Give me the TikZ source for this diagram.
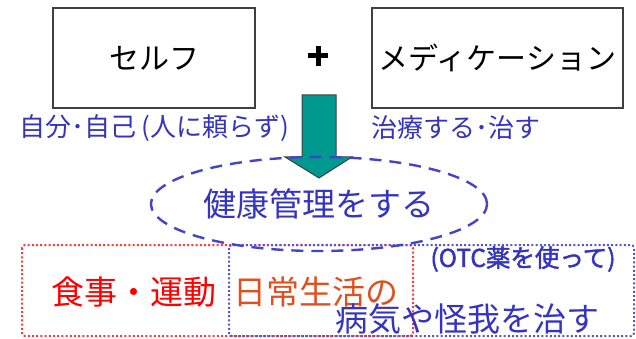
\documentclass[tikz,border=0pt]{standalone}
\usepackage{fontspec}
\setmainfont{Noto Sans CJK JP}[AutoFakeBold=2]
\usetikzlibrary{shapes.geometric}
\definecolor{txtblue}{HTML}{3434C0}
\definecolor{dashblue}{HTML}{4444C8}
\definecolor{teal2}{HTML}{00998F}
\definecolor{orng}{HTML}{E0501E}
\definecolor{dotred}{HTML}{FF3A3A}
\definecolor{dotblue}{HTML}{5555D0}
\tikzset{
  wordbox/.style={draw=black!75, line width=1.2pt, inner sep=0pt},
  big/.style={font=\fontsize{30}{34}\selectfont},
  bigger/.style={font=\fontsize{33}{37}\selectfont},
  mid/.style={font=\fontsize{26}{30}\selectfont},
  dotbox/.style={line width=2pt, dash pattern=on 2pt off 2.2pt, rounded corners=3pt},
  plusbar/.style={line width=5pt, draw=black},
}
\begin{document}
\begin{tikzpicture}[x=1pt,y=-1pt]
\useasboundingbox (0,0) rectangle (636,339);
% top boxes
\node[wordbox, minimum width=202pt, minimum height=100pt, big] (self) at (154,58) {セルフ};
\node[wordbox, minimum width=251pt, minimum height=100pt, big] (med) at (497.5,58) {メディケーション};
\coordinate (plus) at (318,56);
\draw[plusbar] ([xshift=-10pt]plus) -- ([xshift=10pt]plus);
\draw[plusbar] ([yshift=-10pt]plus) -- ([yshift=10pt]plus);
% side texts
\node[mid, text=txtblue, inner sep=0pt] (left) at (154,128) {自分･自己 (人に頼らず)};
\node[mid, text=txtblue, inner sep=0pt] (right) at (456,128) {治療する･治す};
% arrow
\draw[fill=teal2, draw=black!75, line width=1pt]
  (302,95) -- (336,95) -- (336,157) -- (352,157) -- (319,178) -- (285,157) -- (302,157) -- cycle;
% dotted boxes
\draw[dotbox, draw=dotred] (22,245) rectangle (413,336);
\draw[dotbox, draw=dotblue] (229,245) rectangle (634,336);
% ellipse
\node[ellipse, draw=dashblue, line width=2.4pt, dash pattern=on 12pt off 8pt,
      minimum width=332pt, minimum height=94pt, bigger, text=txtblue] (health) at (319,204) {健康管理をする};
% bottom texts
\node[bigger, text=red, inner sep=0pt] (food) at (134,292) {食事・運動};
\node[bigger, text=orng, inner sep=0pt] (daily) at (316,292) {日常生活の};
\node[text=txtblue, inner sep=0pt, font=\fontsize{24.5}{28}\selectfont\bfseries] (otc) at (523,259) {(OTC薬を使って)};
\node[bigger, text=txtblue, inner sep=0pt] (cure) at (467,319) {病気や怪我を治す};
\end{tikzpicture}
\end{document}
